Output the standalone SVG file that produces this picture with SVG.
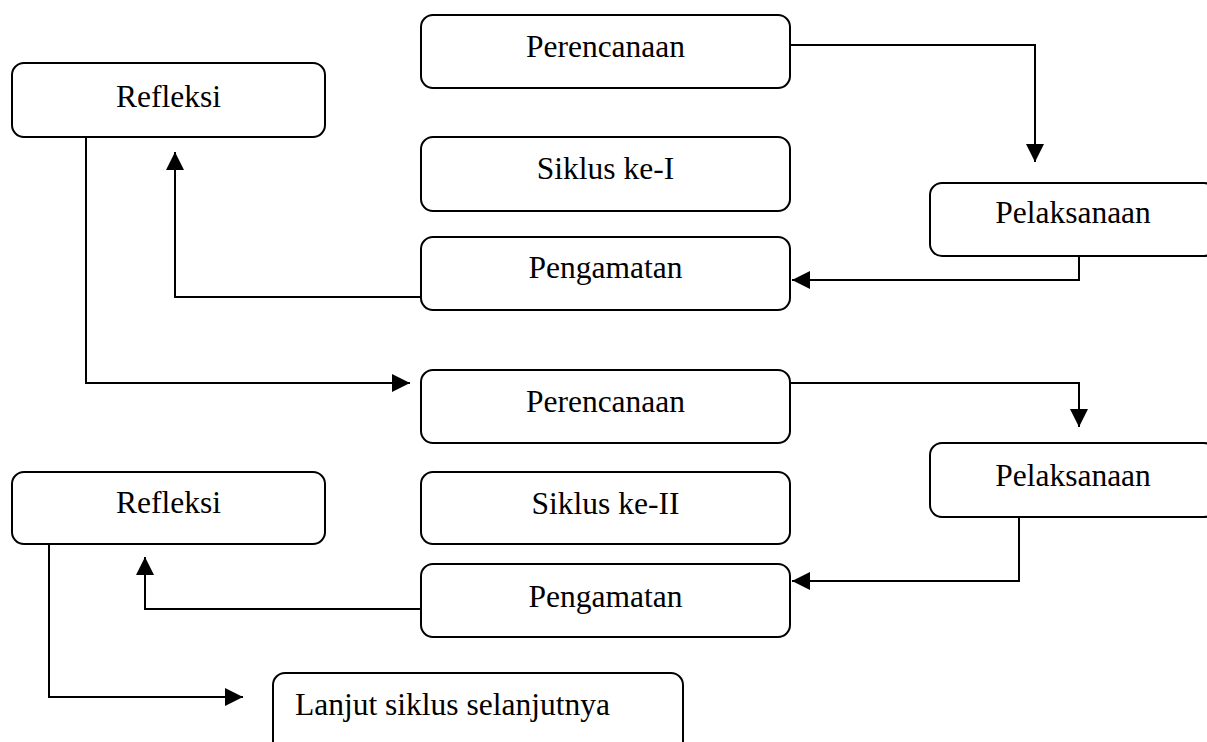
<svg xmlns="http://www.w3.org/2000/svg" width="1207" height="742" viewBox="0 0 1207 742">
<style>
.box{fill:#fff;stroke:#000;stroke-width:2}
.lbl{font-family:"Liberation Serif","Times New Roman",serif;font-size:31.5px;fill:#000;text-anchor:middle}
.conn{fill:none;stroke:#000;stroke-width:2}
</style>
<defs>
<marker id="ah" markerUnits="userSpaceOnUse" markerWidth="18" markerHeight="18" viewBox="0 0 16 16" refX="16" refY="8" orient="auto">
<path d="M0,0 L16,8 L0,16 Z" fill="#000"/>
</marker>
</defs>
<rect width="1207" height="742" fill="#fff"/>
<g id="connectors">
<path class="conn" d="M790,45 H1035 V162" marker-end="url(#ah)"/>
<path class="conn" d="M1079,256 V280 H792" marker-end="url(#ah)"/>
<path class="conn" d="M421,297 H175 V152" marker-end="url(#ah)"/>
<path class="conn" d="M86,137 V383 H410" marker-end="url(#ah)"/>
<path class="conn" d="M790,383 H1079 V427" marker-end="url(#ah)"/>
<path class="conn" d="M1019,517 V581 H792" marker-end="url(#ah)"/>
<path class="conn" d="M421,609 H145 V557" marker-end="url(#ah)"/>
<path class="conn" d="M49,544 V697 H243" marker-end="url(#ah)"/>
</g>
<g id="perencanaan1"><rect class="box" x="421" y="15" width="369" height="73" rx="12"/><text class="lbl" x="605.5" y="57">Perencanaan</text></g>
<g id="refleksi1"><rect class="box" x="12" y="63" width="313" height="74" rx="12"/><text class="lbl" x="168.5" y="107">Refleksi</text></g>
<g id="siklus1"><rect class="box" x="421" y="137" width="369" height="74" rx="12"/><text class="lbl" x="605.5" y="179">Siklus ke-I</text></g>
<g id="pelaksanaan1"><rect class="box" x="930" y="183" width="286" height="73" rx="12"/><text class="lbl" x="1073" y="223">Pelaksanaan</text></g>
<g id="pengamatan1"><rect class="box" x="421" y="237" width="369" height="73" rx="12"/><text class="lbl" x="605.5" y="278">Pengamatan</text></g>
<g id="perencanaan2"><rect class="box" x="421" y="370" width="369" height="73" rx="12"/><text class="lbl" x="605.5" y="412">Perencanaan</text></g>
<g id="pelaksanaan2"><rect class="box" x="930" y="443" width="286" height="74" rx="12"/><text class="lbl" x="1073" y="486">Pelaksanaan</text></g>
<g id="refleksi2"><rect class="box" x="12" y="472" width="313" height="72" rx="12"/><text class="lbl" x="168.5" y="513">Refleksi</text></g>
<g id="siklus2"><rect class="box" x="421" y="472" width="369" height="72" rx="12"/><text class="lbl" x="605.5" y="514">Siklus ke-II</text></g>
<g id="pengamatan2"><rect class="box" x="421" y="564" width="369" height="73" rx="12"/><text class="lbl" x="605.5" y="607">Pengamatan</text></g>
<g id="lanjut"><rect class="box" x="273" y="673" width="410" height="90" rx="12"/><text class="lbl" x="295" y="715" style="text-anchor:start">Lanjut siklus selanjutnya</text></g>
</svg>
